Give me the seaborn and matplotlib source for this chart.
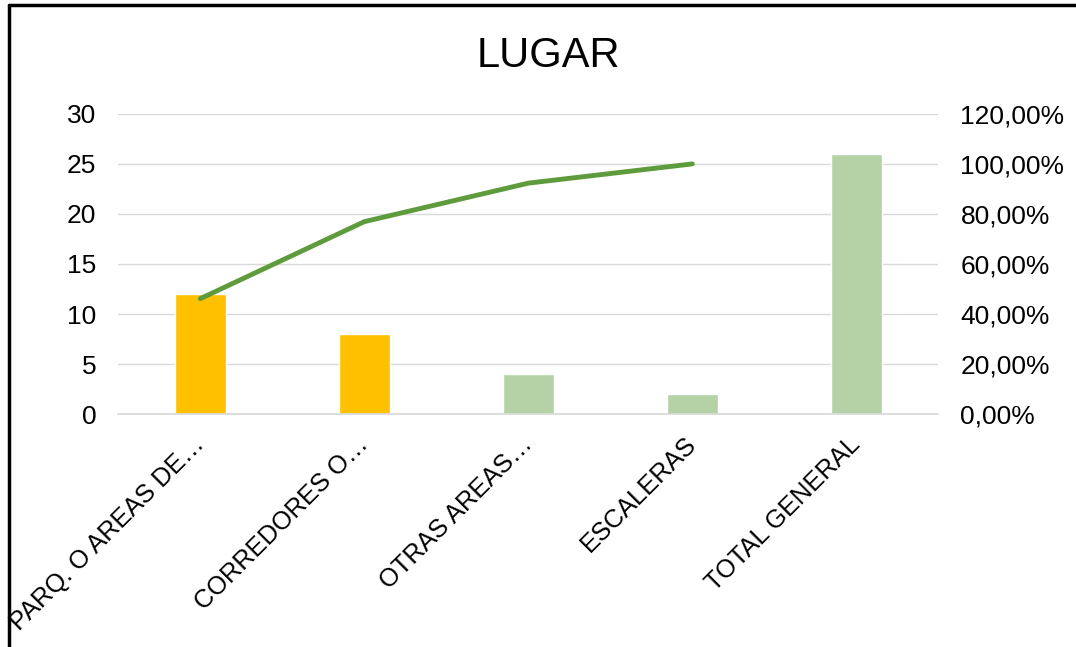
import numpy as np
import matplotlib
matplotlib.use("Agg")
import matplotlib.pyplot as plt
from matplotlib.lines import Line2D
from matplotlib.ticker import FuncFormatter
import seaborn as sns

# data
lugares = ["PARQ. O AREAS DE…", "CORREDORES O…", "OTRAS AREAS…", "ESCALERAS", "TOTAL GENERAL"]
cantidad = [12, 8, 4, 2, 26]
pct_acumulado = [46.15, 76.92, 92.31, 100.0]
colores_barras = ["#FFC000", "#FFC000", "#B4D2A6", "#B4D2A6", "#B4D2A6"]
color_linea = "#5E9B3C"

sns.set_theme(style="white")
plt.rcParams['font.family'] = ['Liberation Sans', 'DejaVu Sans']

fig = plt.figure(figsize=(10.76, 6.47), dpi=100)
ax = fig.add_axes([0.110, 0.360, 0.762, 0.464])

sns.barplot(x=lugares, y=cantidad, hue=lugares, palette=colores_barras,
            legend=False, width=0.31, saturation=1, ax=ax)
ax.set_ylim(0, 30)
ax.set_yticks(range(0, 31, 5))
ax.set_xlim(-0.5, len(lugares) - 0.5)
ax.grid(axis="y", color="#D9D9D9", linewidth=1)
ax.set_axisbelow(True)
for s in ["top", "right", "left"]:
    ax.spines[s].set_visible(False)
ax.spines["bottom"].set_color("#D9D9D9")
ax.tick_params(axis="y", length=0, pad=16, labelsize=19, labelcolor="#000000")
ax.tick_params(axis="x", length=0, pad=19, labelsize=18.3, labelcolor="#000000")
ax.set_xlabel("")
ax.set_ylabel("")
for lbl in ax.get_xticklabels():
    lbl.set_rotation(45)
    lbl.set_ha("right")
    lbl.set_va("center")
    lbl.set_rotation_mode("anchor")

ax2 = ax.twinx()
sns.lineplot(x=np.arange(len(pct_acumulado)), y=np.array(pct_acumulado) / 100,
             color=color_linea, linewidth=3.5, ax=ax2)
ax2.set_ylim(0, 1.2)
ax2.set_yticks(np.arange(0, 1.21, 0.2))
ax2.yaxis.set_major_formatter(FuncFormatter(lambda v, p: f"{v*100:.2f}%".replace(".", ",")))
for s in ax2.spines.values():
    s.set_visible(False)
ax2.tick_params(axis="y", length=0, pad=16, labelsize=19, labelcolor="#000000")
ax2.set_ylabel("")

fig.text(0.51, 0.913, "LUGAR", ha="center", va="center", fontsize=30, color="#000000")

# border of the chart area (left and top edges visible in the reference)
fig.add_artist(Line2D([0.008, 0.008], [0, 0.992], color="black", linewidth=2.5, transform=fig.transFigure))
fig.add_artist(Line2D([0.008, 1], [0.992, 0.992], color="black", linewidth=2.5, transform=fig.transFigure))

fig.savefig("out.png", dpi=100)
